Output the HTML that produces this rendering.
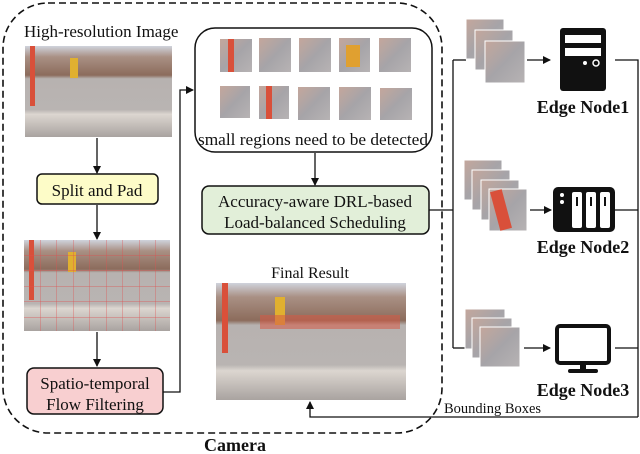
<!DOCTYPE html>
<html><head><style>body{margin:0;background:#fff}svg{display:block}text{font-family:"Liberation Serif",serif;fill:#111}</style></head><body>
<svg width="640" height="454" viewBox="0 0 640 454" xmlns="http://www.w3.org/2000/svg">
<defs>
<marker id="a" markerWidth="8" markerHeight="8" refX="7" refY="4" orient="auto" markerUnits="userSpaceOnUse"><path d="M0,0 L8,4 L0,8z" fill="#111"/></marker>
<linearGradient id="ph" x1="0" y1="0" x2="0" y2="1">
<stop offset="0" stop-color="#cfd3dc"/><stop offset="0.12" stop-color="#a99084"/><stop offset="0.32" stop-color="#8c6c5c"/><stop offset="0.36" stop-color="#b7b2b0"/><stop offset="0.7" stop-color="#b9b4b2"/><stop offset="0.75" stop-color="#dcd6d0"/><stop offset="1" stop-color="#a9a3a0"/></linearGradient>
<linearGradient id="th" x1="0" y1="0" x2="1" y2="1"><stop offset="0" stop-color="#c4a79c"/><stop offset="0.5" stop-color="#a6a4a8"/><stop offset="1" stop-color="#b7b3b4"/></linearGradient>
<pattern id="grid" width="16.5" height="15.5" patternUnits="userSpaceOnUse" x="24" y="240"><path d="M16.5,0V15.5H0" fill="none" stroke="#e05050" stroke-width="0.7"/></pattern>
</defs>
<rect x="3" y="3" width="439" height="430" rx="45" fill="none" stroke="#111" stroke-width="1.6" stroke-dasharray="7,4"/>
<text x="24" y="37" font-size="17">High-resolution Image</text>
<g><rect x="25" y="46" width="147" height="91" fill="url(#ph)"/><rect x="30" y="46" width="5" height="60" fill="#d9503a"/><rect x="70" y="58" width="8" height="20" fill="#e0b030"/></g>
<line x1="97" y1="138" x2="97" y2="173" stroke="#111" stroke-width="1.3" marker-end="url(#a)"/>
<rect x="37" y="174" width="121" height="30" rx="5" fill="#fdfcc8" stroke="#111" stroke-width="1.5"/>
<text x="97" y="196" font-size="17" text-anchor="middle">Split and Pad</text>
<line x1="97" y1="205" x2="97" y2="239" stroke="#111" stroke-width="1.3" marker-end="url(#a)"/>
<g><rect x="24" y="240" width="146" height="91" fill="url(#ph)"/><rect x="29" y="240" width="5" height="60" fill="#d9503a"/><rect x="68" y="252" width="8" height="20" fill="#e0b030"/><rect x="24" y="240" width="146" height="91" fill="url(#grid)"/></g>
<line x1="97" y1="332" x2="97" y2="366" stroke="#111" stroke-width="1.3" marker-end="url(#a)"/>
<rect x="27" y="368" width="136" height="46" rx="7" fill="#f8cfd0" stroke="#111" stroke-width="1.5"/>
<text x="95" y="389" font-size="17" text-anchor="middle">Spatio-temporal</text>
<text x="95" y="410" font-size="17" text-anchor="middle">Flow Filtering</text>
<polyline points="163,392 180,392 180,90 193,90" fill="none" stroke="#111" stroke-width="1.3" marker-end="url(#a)"/>
<rect x="195" y="28" width="237" height="124" rx="20" fill="#fff" stroke="#111" stroke-width="1.5"/>
<g fill="url(#th)">
<rect x="220" y="39" width="32" height="33"/><rect x="259" y="38" width="32" height="34"/><rect x="299" y="38" width="32" height="34"/><rect x="339" y="38" width="31" height="34"/><rect x="379" y="38" width="32" height="34"/>
<rect x="220" y="86" width="30" height="32"/><rect x="259" y="86" width="30" height="33"/><rect x="298" y="87" width="32" height="33"/><rect x="339" y="87" width="32" height="33"/><rect x="380" y="88" width="32" height="32"/></g>
<rect x="228" y="39" width="6" height="33" fill="#d9503a"/><rect x="266" y="86" width="6" height="33" fill="#d9503a"/><rect x="346" y="45" width="14" height="22" fill="#e0a030"/>
<text x="313" y="145" font-size="17" text-anchor="middle" textLength="230" lengthAdjust="spacingAndGlyphs">small regions need to be detected</text>
<line x1="315" y1="153" x2="315" y2="185" stroke="#111" stroke-width="1.3" marker-end="url(#a)"/>
<rect x="202" y="186" width="227" height="48" rx="7" fill="#e2efd9" stroke="#111" stroke-width="1.5"/>
<text x="315" y="207" font-size="17" text-anchor="middle">Accuracy-aware DRL-based</text>
<text x="315" y="228" font-size="17" text-anchor="middle">Load-balanced Scheduling</text>
<text x="310" y="278" font-size="16" text-anchor="middle">Final Result</text>
<g><rect x="216" y="283" width="190" height="117" fill="url(#ph)"/><rect x="222" y="283" width="6" height="70" fill="#d9503a"/><rect x="275" y="297" width="10" height="28" fill="#e0b030"/><rect x="260" y="315" width="140" height="14" fill="#d65a45" opacity="0.55"/></g>
<polyline points="638,417 310,417 310,402" fill="none" stroke="#111" stroke-width="1.3" marker-end="url(#a)"/>
<text x="444" y="413" font-size="14.5">Bounding Boxes</text>
<line x1="429" y1="210" x2="453" y2="210" stroke="#111" stroke-width="1.3"/>
<line x1="453" y1="60" x2="453" y2="348" stroke="#111" stroke-width="1.3"/>
<line x1="453" y1="60" x2="466" y2="60" stroke="#111" stroke-width="1.3"/>
<line x1="453" y1="348" x2="466" y2="348" stroke="#111" stroke-width="1.3"/>
<g fill="url(#th)" stroke="#fff" stroke-width="1">
<rect x="466" y="19" width="38" height="40"/><rect x="475" y="30" width="38" height="40"/><rect x="485" y="41" width="40" height="42"/>
<rect x="464" y="160" width="38" height="40"/><rect x="472" y="170" width="38" height="40"/><rect x="481" y="180" width="38" height="40"/><rect x="489" y="189" width="38" height="42"/>
<rect x="465" y="309" width="40" height="40"/><rect x="472" y="318" width="40" height="40"/><rect x="480" y="327" width="40" height="40"/></g>
<rect x="495" y="190" width="12" height="40" fill="#d9503a" transform="rotate(-15 501 210)"/>
<line x1="527" y1="60" x2="550" y2="60" stroke="#111" stroke-width="1.3" marker-end="url(#a)"/>
<line x1="530" y1="210" x2="551" y2="210" stroke="#111" stroke-width="1.3" marker-end="url(#a)"/>
<line x1="524" y1="348" x2="550" y2="348" stroke="#111" stroke-width="1.3" marker-end="url(#a)"/>
<rect x="560" y="28" width="46" height="63" rx="3" fill="#111"/>
<rect x="565" y="35" width="36" height="8" fill="#fff"/><rect x="565" y="48" width="36" height="8" fill="#fff"/>
<circle cx="585" cy="63" r="2" fill="#fff"/><circle cx="596" cy="63" r="3" fill="none" stroke="#fff" stroke-width="1.5"/>
<text x="583" y="113" font-size="18" font-weight="bold" text-anchor="middle">Edge Node1</text>
<rect x="553" y="187" width="62" height="45" rx="5" fill="#111"/>
<circle cx="562" cy="195" r="2" fill="#fff"/><circle cx="562" cy="202" r="2" fill="#fff"/>
<rect x="572" y="192" width="10" height="36" rx="2" fill="#fff"/><rect x="586" y="192" width="10" height="36" rx="2" fill="#fff"/><rect x="600" y="192" width="10" height="36" rx="2" fill="#fff"/>
<rect x="576" y="197" width="2" height="9" fill="#111"/><rect x="590" y="197" width="2" height="9" fill="#111"/><rect x="604" y="197" width="2" height="9" fill="#111"/>
<text x="583" y="253" font-size="18" font-weight="bold" text-anchor="middle">Edge Node2</text>
<rect x="557" y="326" width="52" height="37" rx="3" fill="none" stroke="#111" stroke-width="4"/>
<rect x="580" y="364" width="6" height="6" fill="#111"/><rect x="568" y="369" width="30" height="4" rx="2" fill="#111"/>
<text x="583" y="396" font-size="18" font-weight="bold" text-anchor="middle">Edge Node3</text>
<polyline points="615,60 638,60 638,417" fill="none" stroke="#111" stroke-width="1.3"/>
<line x1="615" y1="210" x2="638" y2="210" stroke="#111" stroke-width="1.3"/>
<line x1="615" y1="348" x2="638" y2="348" stroke="#111" stroke-width="1.3"/>
<text x="235" y="451" font-size="18" font-weight="bold" text-anchor="middle">Camera</text>
</svg>
</body></html>
